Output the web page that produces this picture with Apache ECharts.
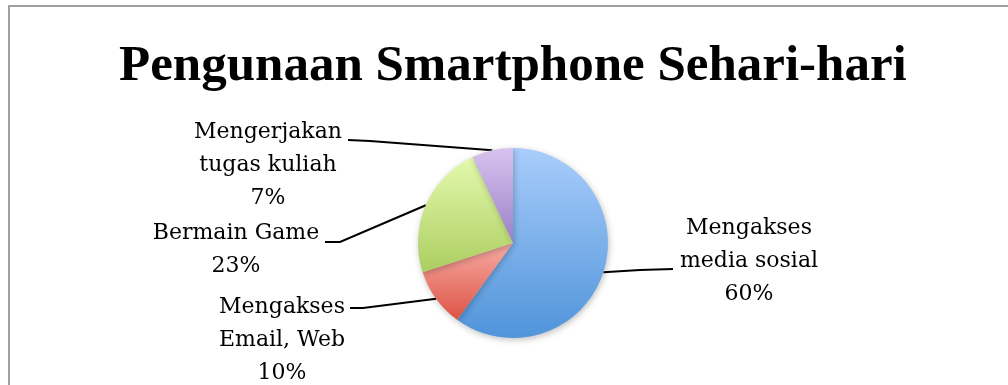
<!DOCTYPE html>
<html>
<head>
<meta charset="utf-8">
<script src="https://cdn.jsdelivr.net/npm/echarts@6/dist/echarts.min.js"></script>
<style>
  html, body { margin: 0; padding: 0; background: #ffffff; }
  #chart { width: 1008px; height: 385px; }
</style>
</head>
<body>
<div id="chart"></div>
<script>
// ---- data ----
const titleText = 'Pengunaan Smartphone Sehari-hari';
const categories = ['Mengakses\nmedia sosial', 'Mengakses\nEmail, Web', 'Bermain Game', 'Mengerjakan\ntugas kuliah'];
const values = [60, 10, 23, 7];

// ---- styles (not data) ----
const sliceGradients = [
  ['#a9cdfb', '#5094da'],
  ['#f8aca5', '#dc5344'],
  ['#e3f9ae', '#acce60'],
  ['#d8c3ef', '#9a80c6']
];
// label placement (centre of text block) and leader line bends
const labelPlacement = [
  { x: 749, y: 261, bend: [[640, 270], [673, 269]] },
  { x: 282, y: 340, bend: [[363, 308], [350, 308]] },
  { x: 236, y: 250, bend: [[340, 242], [325, 242]] },
  { x: 268, y: 165, bend: [[370, 141], [348, 140]] }
];

const chart = echarts.init(document.getElementById('chart'), null, { renderer: 'canvas' });

const seriesData = categories.map((name, i) => ({
  name: name,
  value: values[i],
  itemStyle: {
    color: {
      type: 'linear', x: 0, y: 0, x2: 0, y2: 1,
      colorStops: [
        { offset: 0, color: sliceGradients[i][0] },
        { offset: 1, color: sliceGradients[i][1] }
      ]
    }
  }
}));

chart.setOption({
  animation: false,
  backgroundColor: '#ffffff',
  title: {
    text: titleText,
    left: 114,
    top: 36,
    textStyle: {
      fontFamily: 'Liberation Serif',
      fontWeight: 'bold',
      fontSize: 51,
      color: '#000000'
    }
  },
  graphic: [{
    type: 'rect',
    shape: { x: 9, y: 6, width: 1200, height: 600 },
    style: { fill: 'none', stroke: '#a0a0a0', lineWidth: 2 },
    silent: true,
    z: -1
  }],
  series: [{
    type: 'pie',
    center: [513, 243],
    radius: 95,
    startAngle: 90,
    clockwise: true,
    avoidLabelOverlap: false,
    itemStyle: {
      shadowBlur: 6,
      shadowColor: 'rgba(0,0,0,0.25)',
      shadowOffsetX: 1,
      shadowOffsetY: 2
    },
    label: {
      show: true,
      position: 'outside',
      formatter: p => p.name + '\n' + Math.round(p.percent) + '%',
      fontFamily: 'DejaVu Serif',
      fontSize: 22,
      lineHeight: 33,
      color: '#000000',
      align: 'center'
    },
    labelLine: {
      show: true,
      length: 10,
      length2: 20,
      lineStyle: { color: '#000000', width: 2 }
    },
    labelLayout: function (params) {
      const pl = labelPlacement[params.dataIndex];
      const start = params.labelLinePoints ? params.labelLinePoints[0] : pl.bend[0];
      return {
        x: pl.x,
        y: pl.y,
        align: 'center',
        verticalAlign: 'middle',
        labelLinePoints: [start, pl.bend[0], pl.bend[1]]
      };
    },
    emphasis: { disabled: true },
    data: seriesData
  }]
});
</script>
</body>
</html>
